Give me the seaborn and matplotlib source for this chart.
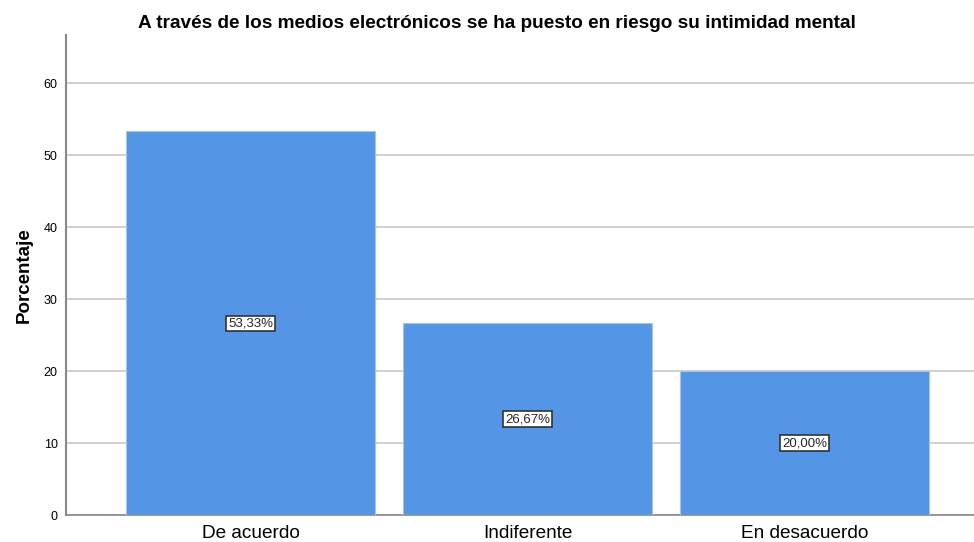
import numpy as np
import pandas as pd
import seaborn as sns
import matplotlib.pyplot as plt

categorias = ['De acuerdo', 'Indiferente', 'En desacuerdo']
porcentajes = [53.33, 26.67, 20.00]
etiquetas = ['53,33%', '26,67%', '20,00%']

sns.set_style('white')
plt.rcParams['font.family'] = ['Liberation Sans', 'DejaVu Sans']

df = pd.DataFrame({'cat': categorias, 'pct': porcentajes})

fig = plt.figure(figsize=(9.74, 5.42), dpi=100)
ax = fig.add_axes([0.0678, 0.0498, 0.9322, 0.8857])

sns.barplot(data=df, x='cat', y='pct', color='#5595E5', saturation=1,
            width=0.9, edgecolor='#A9C3E6', linewidth=0.8, ax=ax, zorder=3)

ax.set_ylim(0, 66.7)
ax.set_xlim(-0.666, 2.612)
ax.set_yticks(range(0, 61, 10))
ax.yaxis.grid(True, color='#C8C8C8', linewidth=1.2, zorder=0)
ax.set_axisbelow(True)

for i, (v, t) in enumerate(zip(porcentajes, etiquetas)):
    ax.text(i, v / 2, t, ha='center', va='center', fontsize=9.5, zorder=5,
            bbox=dict(boxstyle='square,pad=0.12', fc='white', ec='#333333', lw=1.2))

for s in ['top', 'right']:
    ax.spines[s].set_visible(False)
ax.spines['left'].set_color('#888888')
ax.spines['bottom'].set_color('#888888')
ax.spines['left'].set_linewidth(1.5)
ax.spines['bottom'].set_linewidth(1.2)

ax.tick_params(axis='y', labelsize=9, length=0, pad=6, labelcolor='black')
ax.tick_params(axis='x', labelsize=13.7, length=0, pad=7, labelcolor='black')
ax.set_xlabel('')
ax.set_ylabel('Porcentaje', fontsize=13.5, fontweight='bold', labelpad=8, color='black')
ax.set_title('A través de los medios electrónicos se ha puesto en riesgo su intimidad mental',
             fontsize=13.7, fontweight='bold', pad=5, x=0.475, color='black')

fig.savefig('out.png', dpi=100)
